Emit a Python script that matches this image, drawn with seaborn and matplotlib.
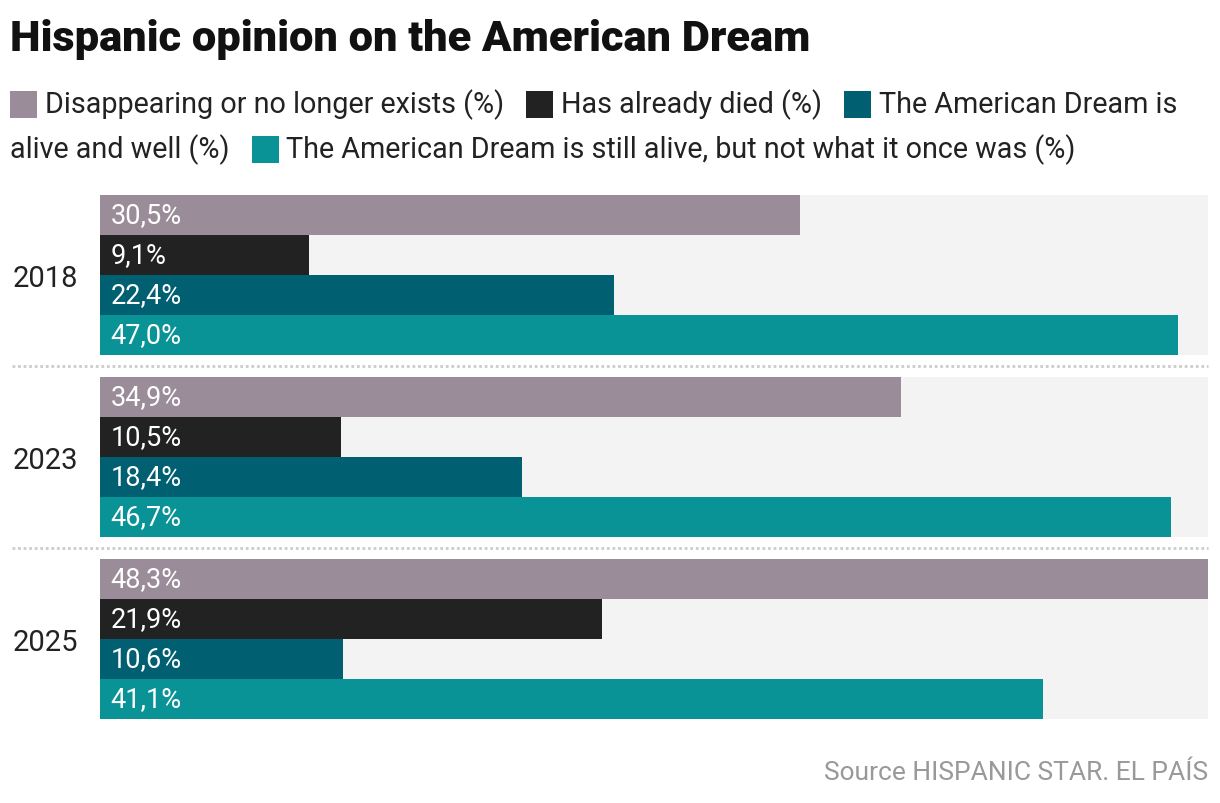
import matplotlib
matplotlib.use("Agg")
import matplotlib.pyplot as plt
import seaborn as sns
import pandas as pd
from matplotlib.patches import Rectangle

years = ["2018", "2023", "2025"]
series = [
    "Disappearing or no longer exists (%)",
    "Has already died (%)",
    "The American Dream is alive and well (%)",
    "The American Dream is still alive, but not what it once was (%)",
]
disappearing = [30.5, 34.9, 48.3]
already_died = [9.1, 10.5, 21.9]
alive_well = [22.4, 18.4, 10.6]
still_alive = [47.0, 46.7, 41.1]
colors = ["#9b8c99", "#222222", "#005f70", "#0a9396"]

title = "Hispanic opinion on the American Dream"
source = "Source HISPANIC STAR. EL PAÍS"

values = [disappearing, already_died, alive_well, still_alive]
rows = []
for s, vals in zip(series, values):
    for y, v in zip(years, vals):
        rows.append({"year": y, "series": s, "value": v})
df = pd.DataFrame(rows)

sns.set_theme(style="white")
plt.rcParams["font.family"] = ["Roboto", "DejaVu Sans"]

W, H = 1220, 804
fig = plt.figure(figsize=(W / 100, H / 100), dpi=100)
ax = fig.add_axes([100 / W, 1 - 720 / H, 1108 / W, 524 / H])

width = 160 / 182
xmax = max(max(v) for v in values)

# background bands
for i in range(len(years)):
    ax.add_patch(Rectangle((0, i - width / 2), xmax, width, color="#f3f3f3", zorder=0, lw=0))

sns.barplot(data=df, y="year", x="value", hue="series", orient="h",
            palette=colors, width=width, gap=0, ax=ax, legend=False,
            saturation=1, order=years, hue_order=series, zorder=2,
            linewidth=0, edgecolor="none")

ax.set_xlim(0, xmax)
ax.set_ylim(len(years) - 1 + width / 2, -width / 2)

# labels inside bars
for cont, vals in zip(ax.containers, values):
    for bar, v in zip(cont, vals):
        ax.annotate(f"{v:.1f}".replace(".", ",") + "%",
                    (0, bar.get_y() + bar.get_height() / 2),
                    xytext=(7.5, 0), textcoords="offset points",
                    ha="left", va="center", color="white", fontsize=19.5, zorder=3)

# dotted separators
for i in range(len(years) - 1):
    ax.plot([-88 / 1108 * xmax, xmax], [i + 0.5, i + 0.5], transform=ax.transData,
            color="#cccccc", lw=2, ls=(0, (1, 1)), clip_on=False, zorder=1)

ax.set_xlabel("")
ax.set_ylabel("")
ax.set_xticks([])
ax.tick_params(axis="y", length=0, pad=16, labelsize=21, labelcolor="#222222")
for sp in ax.spines.values():
    sp.set_visible(False)

fig.text(10 / W, 1 - 39 / H, title, fontsize=31.2, fontweight="black", color="#111111",
         ha="left", va="center")
fig.text(1208 / W, 1 - 773 / H, source, fontsize=19, color="#999999", ha="right", va="center")

# flowing legend
renderer = fig.canvas.get_renderer()
x = 10
line_y = [105, 150]
li = 0
maxx = 1200
sq = 27
fs = 20.7
for s, c in zip(series, colors):
    if x + sq > maxx:
        li += 1
        x = 10
    fig.patches.append(Rectangle((x / W, 1 - (line_y[li] + sq / 2) / H), sq / W, sq / H,
                                 transform=fig.transFigure, color=c, lw=0))
    x += sq + 8
    words = s.split(" ")
    cur = ""
    for w in words:
        trial = (cur + " " + w).strip()
        t = fig.text(x / W, 1 - line_y[li] / H, trial, fontsize=fs, color="#222222",
                     ha="left", va="center")
        wpx = t.get_window_extent(renderer).width
        t.remove()
        if x + wpx > maxx and cur:
            fig.text(x / W, 1 - line_y[li] / H, cur, fontsize=fs, color="#222222",
                     ha="left", va="center")
            li += 1
            x = 10
            cur = w
        else:
            cur = trial
    t = fig.text(x / W, 1 - line_y[li] / H, cur, fontsize=fs, color="#222222",
                 ha="left", va="center")
    x += t.get_window_extent(renderer).width + 22

fig.savefig("out.png", dpi=100)
